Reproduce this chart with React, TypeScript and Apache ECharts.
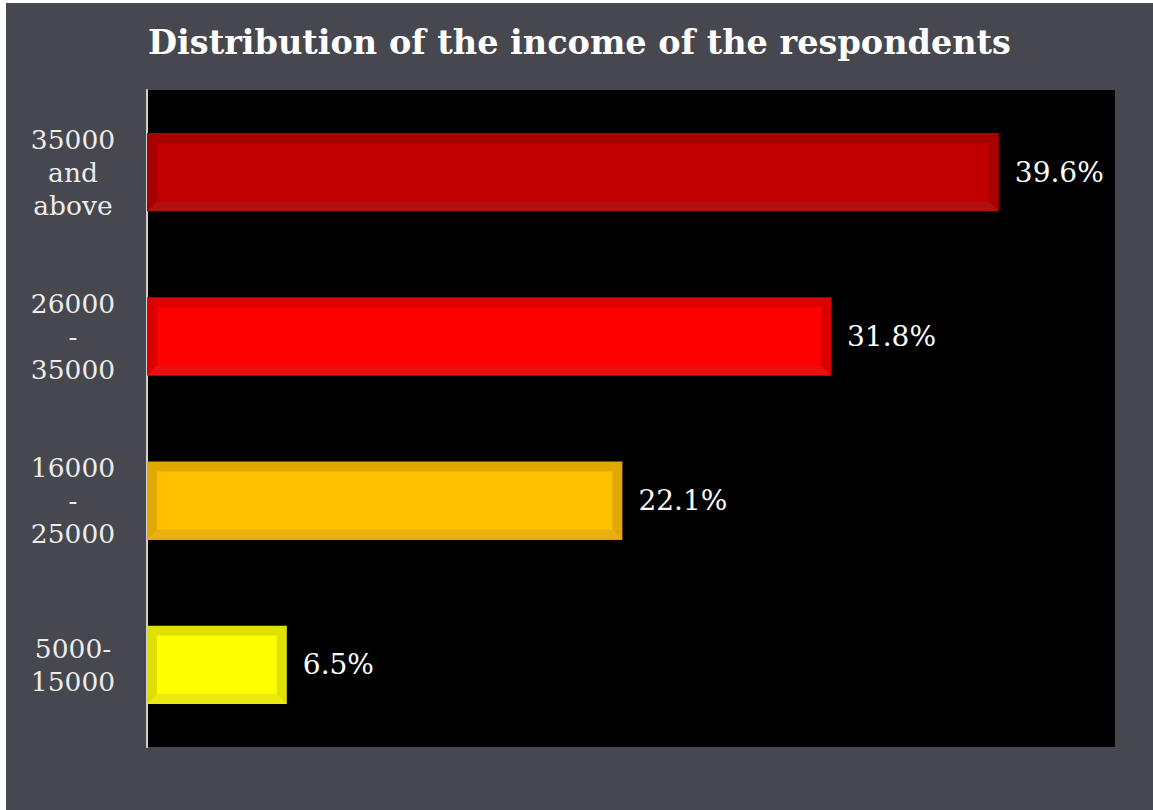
import React, { useEffect, useRef } from "react";
import * as echarts from "echarts";

const categories = ["35000\nand\nabove", "26000\n-\n35000", "16000\n-\n25000", "5000-\n15000"];
const values = [39.6, 31.8, 22.1, 6.5];
const innerColors = ["#c00000", "#ff0000", "#ffc000", "#ffff00"];
const edgeColors = ["#a60000", "#dc0000", "#e0a800", "#e0e000"];
const bottomColors = ["#b21010", "#e81010", "#eab010", "#eaea10"];

const SERIF = "DejaVu Serif";

export default function App() {
  const ref = useRef<HTMLDivElement>(null);
  useEffect(() => {
    if (!ref.current) return;
    const chart = echarts.init(ref.current, undefined, { renderer: "svg" });
    const data = values.map((v, i) => [v, i]);
    chart.setOption({
      animation: false,
      backgroundColor: "#47474f",
      title: {
        text: "Distribution of the income of the respondents",
        left: "center",
        top: 17,
        textStyle: {
          color: "#ffffff",
          fontFamily: SERIF,
          fontWeight: "bold",
          fontSize: 33.5,
        },
      },
      grid: {
        left: 141,
        top: 87,
        width: 968,
        height: 657,
        show: true,
        backgroundColor: "#000000",
        borderWidth: 0,
      },
      xAxis: {
        type: "value",
        min: 0,
        max: 45,
        show: false,
      },
      yAxis: {
        type: "category",
        data: categories,
        inverse: true,
        axisLine: { show: true, lineStyle: { color: "#d0d0d0", width: 2 } },
        axisTick: { show: false },
        splitLine: { show: false },
        axisLabel: {
          color: "#ececec",
          fontFamily: SERIF,
          fontSize: 26.5,
          lineHeight: 33,
          align: "center",
          margin: 74,
        },
      },
      series: [
        {
          type: "custom",
          encode: { x: 0, y: 1 },
          data,
          renderItem: (params: any, api: any) => {
            const v = api.value(0);
            const ci = api.value(1);
            const end = api.coord([v, ci]);
            const start = api.coord([0, ci]);
            const band = api.size([0, 1])[1];
            const h = band * 0.475;
            const x0 = start[0];
            const x1 = end[0];
            const y0 = end[1] - h / 2;
            const y1 = end[1] + h / 2;
            const b = 10;
            const idx = params.dataIndex;
            const edge = edgeColors[idx];
            return {
              type: "group",
              children: [
                {
                  type: "rect",
                  shape: { x: x0, y: y0, width: x1 - x0, height: y1 - y0 },
                  style: { fill: edge },
                  textContent: {
                    style: {
                      text: v.toFixed(1) + "%",
                      fill: "#ffffff",
                      fontFamily: SERIF,
                      fontSize: 28,
                    },
                  },
                  textConfig: { position: "right", distance: 16 },
                },
                {
                  type: "polygon",
                  shape: { points: [[x0, y1], [x1, y1], [x1 - b, y1 - b], [x0 + b, y1 - b]] },
                  style: { fill: bottomColors[idx] },
                },
                {
                  type: "rect",
                  shape: { x: x0 + b, y: y0 + b, width: x1 - x0 - 2 * b, height: y1 - y0 - 2 * b },
                  style: { fill: innerColors[idx] },
                },
              ],
            };
          },
        },
      ],
    });
    return () => chart.dispose();
  }, []);
  return (
    <div
      ref={ref}
      style={{ position: "fixed", left: 6, top: 3, width: 1147, height: 807 }}
    />
  );
}
